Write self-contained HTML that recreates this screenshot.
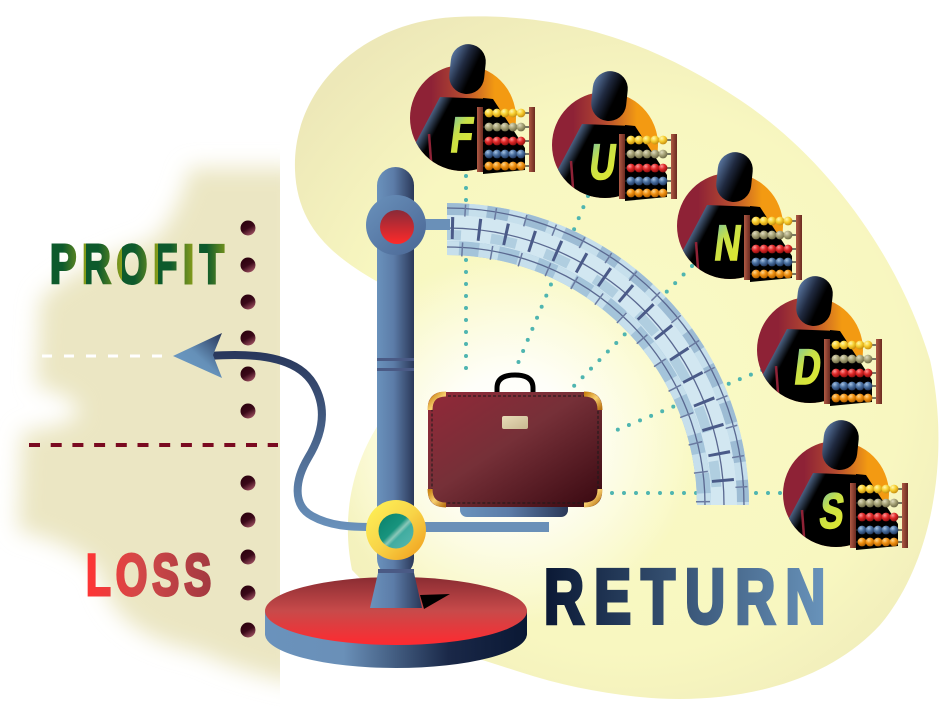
<!DOCTYPE html>
<html><head><meta charset="utf-8"><style>
html,body{margin:0;padding:0;background:#fff;width:945px;height:727px;overflow:hidden}
svg{display:block}
</style></head><body>
<svg width="945" height="727" viewBox="0 0 945 727" xmlns="http://www.w3.org/2000/svg">
<defs>
 <filter id="blur" x="-50%" y="-50%" width="200%" height="200%"><feGaussianBlur stdDeviation="11"/></filter>
 <clipPath id="leftclip"><rect x="0" y="0" width="280" height="727"/></clipPath>
 <clipPath id="pc"><circle r="53"/></clipPath>
 <radialGradient id="blobG" gradientUnits="userSpaceOnUse" cx="630" cy="380" r="420">
  <stop offset="0" stop-color="#fafac6"/><stop offset="0.65" stop-color="#f8f7c0"/><stop offset="1" stop-color="#ede8b8"/>
 </radialGradient>
 <radialGradient id="glowG" gradientUnits="userSpaceOnUse" cx="510" cy="440" r="185">
  <stop offset="0" stop-color="#fff" stop-opacity="1"/><stop offset="0.35" stop-color="#fff" stop-opacity="0.9"/><stop offset="1" stop-color="#fff" stop-opacity="0"/>
 </radialGradient>
 <linearGradient id="steelH" x1="0" y1="0" x2="1" y2="0">
  <stop offset="0" stop-color="#6a92bc"/><stop offset="0.45" stop-color="#5c7ca8"/><stop offset="1" stop-color="#2a3858"/>
 </linearGradient>
 <linearGradient id="ringG" x1="0" y1="0" x2="1" y2="1">
  <stop offset="0" stop-color="#6a92bc"/><stop offset="1" stop-color="#4a6694"/>
 </linearGradient>
 <linearGradient id="redDot" x1="0" y1="0" x2="0" y2="1">
  <stop offset="0" stop-color="#8a2a38"/><stop offset="1" stop-color="#ff2a2a"/>
 </linearGradient>
 <linearGradient id="yelG" x1="0" y1="0" x2="1" y2="1">
  <stop offset="0" stop-color="#fff458"/><stop offset="0.5" stop-color="#f8d448"/><stop offset="1" stop-color="#f09a18"/>
 </linearGradient>
 <linearGradient id="tealG" x1="0" y1="0" x2="1" y2="1">
  <stop offset="0" stop-color="#08806a"/><stop offset="0.45" stop-color="#18947e"/><stop offset="0.55" stop-color="#8ac8b8"/><stop offset="0.62" stop-color="#40aca0"/><stop offset="1" stop-color="#5ab8b0"/>
 </linearGradient>
 <linearGradient id="discTop" x1="0" y1="0" x2="0" y2="1">
  <stop offset="0" stop-color="#8a2c32"/><stop offset="0.5" stop-color="#c84a4a"/><stop offset="1" stop-color="#ff2a30"/>
 </linearGradient>
 <linearGradient id="discSide" x1="0" y1="0" x2="1" y2="0">
  <stop offset="0" stop-color="#6a92bc"/><stop offset="0.3" stop-color="#6a90b8"/><stop offset="0.7" stop-color="#1a2848"/><stop offset="1" stop-color="#0a1834"/>
 </linearGradient>
 <linearGradient id="curveG" gradientUnits="userSpaceOnUse" x1="0" y1="350" x2="0" y2="530">
  <stop offset="0" stop-color="#28365a"/><stop offset="1" stop-color="#6a92bc"/>
 </linearGradient>
 <linearGradient id="arrowG" x1="0" y1="1" x2="1" y2="0">
  <stop offset="0" stop-color="#6c9cc6"/><stop offset="0.5" stop-color="#6590b8"/><stop offset="1" stop-color="#28365a"/>
 </linearGradient>
 <linearGradient id="caseG" x1="0" y1="0" x2="1" y2="1">
  <stop offset="0" stop-color="#922838"/><stop offset="0.45" stop-color="#763038"/><stop offset="1" stop-color="#380810"/>
 </linearGradient>
 <linearGradient id="goldG" x1="0" y1="0" x2="1" y2="1">
  <stop offset="0" stop-color="#c88010"/><stop offset="0.5" stop-color="#f8d070"/><stop offset="1" stop-color="#b87010"/>
 </linearGradient>
 <linearGradient id="labelG" x1="0" y1="0" x2="1" y2="1">
  <stop offset="0" stop-color="#e8dcb8"/><stop offset="1" stop-color="#c8b890"/>
 </linearGradient>
 <linearGradient id="dotG" x1="0.2" y1="0" x2="0.8" y2="1">
  <stop offset="0" stop-color="#2a000c"/><stop offset="0.5" stop-color="#3a0818"/><stop offset="1" stop-color="#a85868"/>
 </linearGradient>
 <linearGradient id="circG" x1="0" y1="0" x2="1" y2="0">
  <stop offset="0.2" stop-color="#8e2236"/><stop offset="0.5" stop-color="#b44a30"/><stop offset="0.8" stop-color="#f39a12"/>
 </linearGradient>
 <linearGradient id="headG" x1="0" y1="0" x2="1" y2="0.5">
  <stop offset="0" stop-color="#6a8cbc"/><stop offset="0.45" stop-color="#202a40"/><stop offset="0.75" stop-color="#000"/>
 </linearGradient>
 <linearGradient id="torsoG" gradientUnits="userSpaceOnUse" x1="-42" y1="4" x2="-27" y2="12">
  <stop offset="0" stop-color="#6a8ab8"/><stop offset="1" stop-color="#000"/>
 </linearGradient>
 <linearGradient id="postG" x1="0" y1="0" x2="1" y2="0">
  <stop offset="0" stop-color="#b05a44"/><stop offset="1" stop-color="#6a2a20"/>
 </linearGradient>
 <radialGradient id="bY" cx="0.35" cy="0.3" r="0.7"><stop offset="0" stop-color="#fff8b0"/><stop offset="0.5" stop-color="#f8d030"/><stop offset="1" stop-color="#c89010"/></radialGradient>
 <radialGradient id="bK" cx="0.35" cy="0.3" r="0.7"><stop offset="0" stop-color="#e0dcc0"/><stop offset="0.5" stop-color="#a8a478"/><stop offset="1" stop-color="#706c48"/></radialGradient>
 <radialGradient id="bR" cx="0.35" cy="0.3" r="0.7"><stop offset="0" stop-color="#ff9a9a"/><stop offset="0.5" stop-color="#e02828"/><stop offset="1" stop-color="#901010"/></radialGradient>
 <radialGradient id="bB" cx="0.35" cy="0.3" r="0.7"><stop offset="0" stop-color="#a8c4e4"/><stop offset="0.5" stop-color="#4a70a0"/><stop offset="1" stop-color="#243a60"/></radialGradient>
 <radialGradient id="bO" cx="0.35" cy="0.3" r="0.7"><stop offset="0" stop-color="#ffd890"/><stop offset="0.5" stop-color="#f09010"/><stop offset="1" stop-color="#b06000"/></radialGradient>
 <linearGradient id="letterG" x1="0" y1="0" x2="0.6" y2="1">
  <stop offset="0" stop-color="#6cc0b0"/><stop offset="0.45" stop-color="#c8e048"/><stop offset="1" stop-color="#e0e830"/>
 </linearGradient>
 <linearGradient id="profitG" gradientUnits="userSpaceOnUse" x1="0" y1="0" x2="50" y2="0" spreadMethod="repeat">
  <stop offset="0" stop-color="#0d5a2c"/><stop offset="0.35" stop-color="#0d5a2c"/><stop offset="1" stop-color="#8a9e1a"/>
 </linearGradient>
 <linearGradient id="returnG" x1="0" y1="0" x2="1" y2="0">
  <stop offset="0" stop-color="#0a1834"/><stop offset="1" stop-color="#6c98c0"/>
 </linearGradient>
 <linearGradient id="lossG" x1="0" y1="0" x2="1" y2="0">
  <stop offset="0" stop-color="#ff3434"/><stop offset="0.4" stop-color="#d44848"/><stop offset="1" stop-color="#a03840"/>
 </linearGradient>

 <g id="person">
  <circle r="53" fill="url(#circG)"/>
  <g clip-path="url(#pc)">
   <path d="M-23,-21 L28,-19 L28,60 L-66,60 Z" fill="url(#torsoG)"/>
   <path d="M-34,16 L-31,56" stroke="#8e2236" stroke-width="2.5"/>
  </g>
  <path d="M20,-20 L30,-19 L62,30 L62,52 L20,56 Z" fill="#000"/>
  <rect x="-13" y="-74" width="35" height="50" rx="17.5" fill="url(#headG)" transform="rotate(6 4 -49)"/>
  <path d="M20,-5H66M20,9H66M20,23H66M20,36H66M20,48H66" stroke="#2a2a2a" stroke-width="1.3"/>
  <g fill="url(#bY)"><circle cx="26" cy="-5" r="4.4"/><circle cx="34" cy="-5" r="4.4"/><circle cx="42" cy="-5" r="4.4"/><circle cx="50" cy="-5" r="4.4"/><circle cx="58" cy="-5" r="4.4"/></g>
  <g fill="url(#bK)"><circle cx="26" cy="9" r="4.4"/><circle cx="34" cy="9" r="4.4"/><circle cx="42" cy="9" r="4.4"/><circle cx="50" cy="9" r="4.4"/><circle cx="58" cy="9" r="4.4"/></g>
  <g fill="url(#bR)"><circle cx="26" cy="23" r="4.4"/><circle cx="34" cy="23" r="4.4"/><circle cx="42" cy="23" r="4.4"/><circle cx="50" cy="23" r="4.4"/><circle cx="58" cy="23" r="4.4"/></g>
  <g fill="url(#bB)"><circle cx="26" cy="36" r="4.4"/><circle cx="34" cy="36" r="4.4"/><circle cx="42" cy="36" r="4.4"/><circle cx="50" cy="36" r="4.4"/><circle cx="58" cy="36" r="4.4"/></g>
  <g fill="url(#bO)"><circle cx="26" cy="48" r="4.4"/><circle cx="34" cy="48" r="4.4"/><circle cx="42" cy="48" r="4.4"/><circle cx="50" cy="48" r="4.4"/><circle cx="58" cy="48" r="4.4"/></g>
  <rect x="14" y="-11" width="6" height="65" fill="url(#postG)"/>
  <rect x="66" y="-11" width="6" height="65" fill="url(#postG)"/>
 </g>
</defs>

<!-- beige left region -->
<g clip-path="url(#leftclip)">
 <g filter="url(#blur)" fill="#ebe6c3">
  <path d="M300,168 L190,168 Q176,222 150,242 Q70,268 40,300 L36,386 Q70,394 80,410 Q75,426 22,432 L18,530 Q80,546 100,572 Q112,635 200,652 Q240,672 300,684 Z"/>
 </g>
</g>

<!-- blob -->
<path d="M295,170 C292,90 360,22 455,17 C560,12 650,40 740,100 C830,160 900,260 930,360 C950,450 935,560 880,625 C820,690 720,705 640,697 C600,693 560,685 520,672 L420,640 L352,570 C342,520 350,470 378,425 L378,282 C330,255 297,225 295,170 Z" fill="url(#blobG)"/>
<rect x="300" y="240" width="420" height="400" fill="url(#glowG)"/>

<!-- dotted cyan lines -->
<g stroke="#4fb5b0" stroke-width="4" stroke-linecap="round" stroke-dasharray="0 12" fill="none">
 <path d="M466,176 L466,380"/>
 <path d="M588,196 L516,368"/>
 <path d="M692,266 L570,390"/>
 <path d="M762,370 L612,432"/>
 <path d="M612,493 L790,493"/>
</g>

<!-- arch -->
<g fill="none">
 <path d="M447,203 A302,302 0 0 1 749,505 L697,505 A250,250 0 0 0 447,255 Z" fill="#b4d0e4"/>
 <path d="M447,209 A296,296 0 0 1 743,505" stroke="#c6dfec" stroke-width="12"/>
 <path d="M447,209 A296,296 0 0 1 743,505" stroke="#9dbcd4" stroke-width="12" stroke-dasharray="22 18"/>
 <path d="M447,228 A277,277 0 0 1 724,505" stroke="#d2e7f1" stroke-width="26"/>
 <path d="M447,235 A270,270 0 0 1 717,505" stroke="#b0cee0" stroke-width="10" stroke-dasharray="26 30" stroke-dashoffset="12"/>
 <path d="M447,248 A257,257 0 0 1 704,505" stroke="#a4c4da" stroke-width="14"/>
 <path d="M447,248 A257,257 0 0 1 704,505" stroke="#c6dfec" stroke-width="14" stroke-dasharray="20 20" stroke-dashoffset="8"/>
 <path d="M447,208 A297,297 0 0 1 744,505" stroke="#5a6890" stroke-width="1.3"/>
 <path d="M447,228 A277,277 0 0 1 724,505" stroke="#5a6890" stroke-width="1.3"/>
 <path d="M447,247 A258,258 0 0 1 705,505" stroke="#5a6890" stroke-width="1.3"/>
 <path d="M447,228 A277,277 0 0 1 724,505" stroke="#4a5a88" stroke-width="22" stroke-dasharray="3 24" stroke-dashoffset="-4"/>
 <path d="M447,210 A295,295 0 0 1 742,505" stroke="#6a7aa0" stroke-width="12" stroke-dasharray="1.5 29" stroke-dashoffset="-48"/>
 <path d="M447,249 A256,256 0 0 1 703,505" stroke="#6a7aa0" stroke-width="14" stroke-dasharray="1.5 28" stroke-dashoffset="-44"/>
</g>

<!-- base disc -->
<path d="M265,611 L265,634 A131,34 0 0 0 527,634 L527,611 Z" fill="url(#discSide)"/>
<ellipse cx="396" cy="611" rx="131" ry="34" fill="url(#discTop)"/>

<!-- pole -->
<rect x="422" y="219" width="28" height="11" fill="#6a90b8"/>
<rect x="377" y="167" width="37" height="410" rx="18.5" fill="url(#steelH)"/>
<rect x="377" y="358" width="37" height="3" fill="#4a5a85"/>
<rect x="377" y="368" width="37" height="3" fill="#4a5a85"/>
<polygon points="378,573 414,573 422,608 370,608" fill="url(#steelH)"/>
<rect x="378" y="569" width="36" height="4" fill="#4a5a85"/>
<polygon points="420,595 450,594 424,609" fill="#000"/>

<!-- top ring -->
<circle cx="396" cy="225" r="30" fill="url(#ringG)"/>
<circle cx="397" cy="227" r="17" fill="url(#redDot)"/>

<!-- suitcase -->
<rect x="460" y="498" width="108" height="19" rx="7" fill="url(#steelH)"/>
<path d="M497,393 L497,388 Q497,375 515,375 Q533,375 533,388 L533,393" stroke="#000" stroke-width="5" fill="none"/>
<rect x="428" y="392" width="174" height="115" rx="14" fill="url(#caseG)"/>
<rect x="432" y="396" width="166" height="107" rx="11" fill="none" stroke="#1a1a1a" stroke-width="1" stroke-dasharray="3 2"/>
<g stroke="url(#goldG)" stroke-width="5" fill="none">
 <path d="M430,410 Q430,394 446,394"/>
 <path d="M584,394 Q600,394 600,410"/>
 <path d="M430,489 Q430,505 446,505"/>
 <path d="M584,505 Q600,505 600,489"/>
</g>
<rect x="502" y="416" width="26" height="13" rx="2" fill="url(#labelG)"/>

<!-- bottom horizontal bar -->
<rect x="420" y="522" width="129" height="10" fill="#6a90b8"/>

<!-- arrow curve -->
<path d="M210,356 C265,352 300,360 314,385 C328,410 322,435 308,458 C295,480 292,505 312,516 C330,526 350,527 372,527" stroke="url(#curveG)" stroke-width="8" fill="none"/>
<polygon points="173,356 222,333 213,355 222,378" fill="url(#arrowG)"/>

<!-- yellow ring -->
<circle cx="396" cy="530" r="30" fill="url(#yelG)"/>
<circle cx="396" cy="531" r="17.5" fill="url(#tealG)"/>

<!-- people -->
<use href="#person" transform="translate(463,118)"/>
<use href="#person" transform="translate(605,145)"/>
<use href="#person" transform="translate(730,226)"/>
<use href="#person" transform="translate(810,350)"/>
<use href="#person" transform="translate(836,494)"/>

<g font-family="Liberation Sans, sans-serif" font-weight="bold" font-size="50" fill="url(#letterG)" stroke="url(#letterG)" stroke-width="1.5">
 <text transform="translate(449,152) skewX(-7) scale(0.72,1)">F</text>
 <text transform="translate(588,179) skewX(-7) scale(0.72,1)">U</text>
 <text transform="translate(713,260) skewX(-7) scale(0.72,1)">N</text>
 <text transform="translate(793,384) skewX(-7) scale(0.72,1)">D</text>
 <text transform="translate(818,528) skewX(-7) scale(0.72,1)">S</text>
</g>

<!-- dashed lines -->
<path d="M29,445 L278,445" stroke="#7a0a20" stroke-width="4" stroke-dasharray="11 10.7"/>
<path d="M42,356 L165,356" stroke="#fff" stroke-width="3" stroke-dasharray="10 12"/>

<!-- dots column -->
<g fill="url(#dotG)">
 <circle cx="248" cy="228" r="7.5"/><circle cx="248" cy="265" r="7.5"/><circle cx="248" cy="302" r="7.5"/>
 <circle cx="248" cy="338" r="7.5"/><circle cx="248" cy="374" r="7.5"/><circle cx="248" cy="411" r="7.5"/>
 <circle cx="248" cy="483" r="7.5"/><circle cx="248" cy="520" r="7.5"/><circle cx="248" cy="557" r="7.5"/>
 <circle cx="248" cy="593" r="7.5"/><circle cx="248" cy="630" r="7.5"/>
</g>

<!-- labels -->
<text transform="translate(50,283) scale(0.72,1)" font-family="Liberation Sans, sans-serif" font-weight="bold" font-size="55" letter-spacing="8" fill="url(#profitG)" stroke="url(#profitG)" stroke-width="3">PROFIT</text>
<text transform="translate(86,595) scale(0.7,1)" font-family="Liberation Sans, sans-serif" font-weight="bold" font-size="58" letter-spacing="7" fill="url(#lossG)" stroke="url(#lossG)" stroke-width="3">LOSS</text>
<text transform="translate(544,623) scale(0.72,1)" font-family="Liberation Sans, sans-serif" font-weight="bold" font-size="77" letter-spacing="14" fill="url(#returnG)" stroke="url(#returnG)" stroke-width="4">RETURN</text>
</svg>
</body></html>
